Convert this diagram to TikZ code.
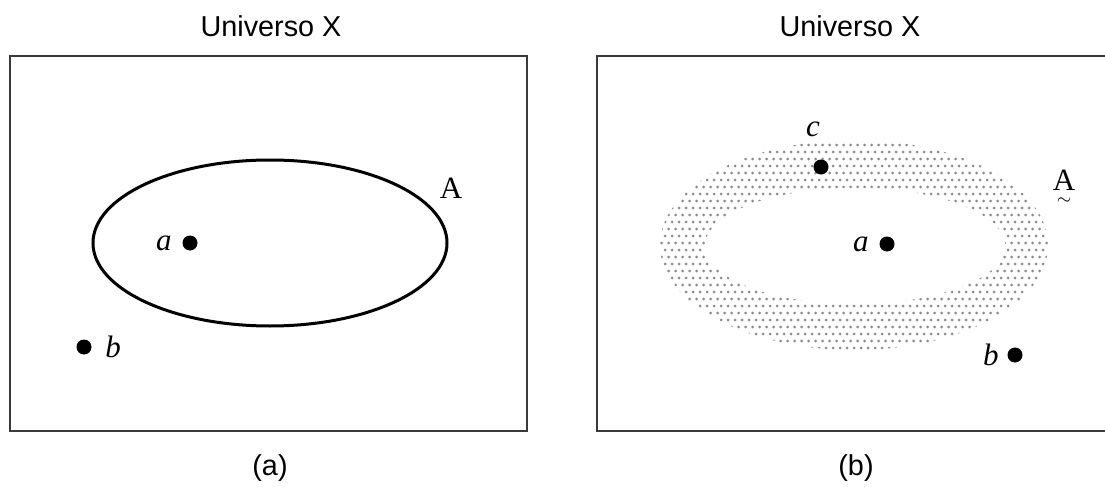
\documentclass[tikz,border=0pt]{standalone}
\usepackage{fontspec}
\setmainfont{Liberation Serif}
\setsansfont{Liberation Sans}
\usetikzlibrary{positioning}
\definecolor{boxgray}{HTML}{3A3A3A}
\definecolor{dotgray}{HTML}{8A8A8A}
\tikzset{
  pt/.style={circle, fill=black, inner sep=0pt, minimum size=7.5pt},
  lbl/.style={inner sep=0pt, font=\fontsize{15.5}{18}\selectfont\itshape},
  setlbl/.style={inner sep=0pt, font=\fontsize{15.5}{18}\selectfont},
  ttl/.style={font=\sffamily\fontsize{14.4}{17}\selectfont},
  frame/.style={draw=boxgray, line width=1pt},
}

\begin{document}
\begin{tikzpicture}[x=0.5pt, y=-0.5pt]
  \useasboundingbox (0,0) rectangle (1105,487);
  % (a) crisp set
  \node[ttl] (tA) at (271,26) {Universo X};
  \draw[frame] (10,56) rectangle (527,431);
  \draw[line width=1.5pt] (270,243) ellipse [x radius=177, y radius=83];
  \node[setlbl] (setA) at (451,188) {A};
  \node[pt] (a1) at (190,243) {};
  \node[lbl, left=5pt of a1] (la1) {a};
  \node[pt] (b1) at (84,347) {};
  \node[lbl, right=6.5pt of b1] (lb1) {b};
  \node[ttl] (capA) at (270,468) {(a)};
  % (b) fuzzy set
  \node[ttl] (tB) at (850,26) {Universo X};
  \draw[frame] (1108,56) -- (597,56) -- (597,431) -- (1108,431);
  \begin{scope}
    \clip (854,245) ellipse [x radius=194, y radius=105];
    \foreach \j in {0,...,31} \foreach \i in {0,...,56} {
      \pgfmathsetmacro\px{658+7*\i+3.5*mod(\j,2)}
      \fill[dotgray] (\px,{138+7*\j}) circle (0.75pt);
    }
  \end{scope}
  \fill[white] (855,246) ellipse [x radius=150, y radius=58];
  \node[setlbl] (setB) at (1064,180) {A};
  \node[inner sep=0pt, below=3.5pt of setB, font=\fontsize{9}{9}\selectfont] (tld) {$\sim$};
  \node[pt] (c2) at (821,167) {};
  \node[lbl, above=11pt of c2, xshift=-4pt] (lc2) {c};
  \node[pt] (a2) at (887,244) {};
  \node[lbl, left=5pt of a2] (la2) {a};
  \node[pt] (b2) at (1015,355) {};
  \node[lbl, left=4pt of b2] (lb2) {b};
  \node[ttl] (capB) at (856,468) {(b)};
\end{tikzpicture}
\end{document}
